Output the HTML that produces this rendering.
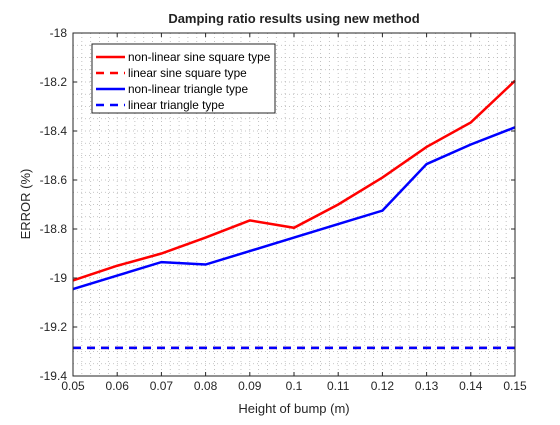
<!DOCTYPE html>
<html><head><meta charset="utf-8"><style>
body{margin:0;background:#fff;}
svg text{font-family:"Liberation Sans",sans-serif;}
</style></head><body>
<svg id="c" width="560" height="420" xmlns="http://www.w3.org/2000/svg">
<rect width="560" height="420" fill="#fff"/>
<g id="grid"></g>
<g id="series"></g>
<g id="axes"></g>
<text x="294" y="23" text-anchor="middle" font-size="13" font-weight="bold" fill="#222">Damping ratio results using new method</text>
<text x="294" y="413" text-anchor="middle" font-size="13" fill="#262626">Height of bump (m)</text>
<text transform="translate(30,204) rotate(-90)" text-anchor="middle" font-size="13" fill="#262626">ERROR (%)</text>
<g id="legend"></g>
</svg>
<script>
const xValues=[0.05,0.06,0.07,0.08,0.09,0.10,0.11,0.12,0.13,0.14,0.15];
const redNonlinear=[-19.01,-18.95,-18.90,-18.835,-18.765,-18.795,-18.70,-18.59,-18.465,-18.365,-18.195];
const blueNonlinear=[-19.045,-18.99,-18.935,-18.945,-18.89,-18.835,-18.78,-18.725,-18.535,-18.455,-18.385];
const redLinear=[-19.285,-19.285,-19.285,-19.285,-19.285,-19.285,-19.285,-19.285,-19.285,-19.285,-19.285];
const blueLinear=[-19.285,-19.285,-19.285,-19.285,-19.285,-19.285,-19.285,-19.285,-19.285,-19.285,-19.285];
const xTicks=[0.05,0.06,0.07,0.08,0.09,0.1,0.11,0.12,0.13,0.14,0.15];
const yTicks=[-18,-18.2,-18.4,-18.6,-18.8,-19,-19.2,-19.4];
const legendLabels=["non-linear sine square type","linear sine square type","non-linear triangle type","linear triangle type"];
const L=73,R=515,T=33,B=376,NS="http://www.w3.org/2000/svg";
const X=v=>L+(v-0.05)/0.1*(R-L);
const Y=v=>T+(-18-v)/1.4*(B-T);
function mk(t,a,p){const e=document.createElementNS(NS,t);for(const k in a)e.setAttribute(k,a[k]);p.appendChild(e);return e;}
const g=document.getElementById('grid'),ax=document.getElementById('axes'),s=document.getElementById('series'),lg=document.getElementById('legend');
for(let i=0;i<=50;i++){const x=L+i*(R-L)/50;const l=mk('line',{x1:x,x2:x,y1:T,y2:B,stroke:'#b4b4b4','stroke-width':0.8,'stroke-dasharray':'1,3'},g);}
for(let i=0;i<=28;i++){const y=T+i*(B-T)/28;const l=mk('line',{x1:L,x2:R,y1:y,y2:y,stroke:'#b4b4b4','stroke-width':0.8,'stroke-dasharray':'1,3'},g);}
const box=mk('rect',{x:L,y:T,width:R-L,height:B-T,fill:'none',stroke:'#262626','stroke-width':1},ax);

xTicks.forEach(v=>{const x=X(v);mk('line',{x1:x,x2:x,y1:B,y2:B-4,stroke:'#262626'},ax);mk('line',{x1:x,x2:x,y1:T,y2:T+4,stroke:'#262626'},ax);
const t=mk('text',{x:x,y:B+14,'text-anchor':'middle','font-size':12,fill:'#262626'},ax);t.textContent=String(v);});
yTicks.forEach(v=>{const y=Y(v);mk('line',{x1:L,x2:L+4,y1:y,y2:y,stroke:'#262626'},ax);mk('line',{x1:R,x2:R-4,y1:y,y2:y,stroke:'#262626'},ax);
const t=mk('text',{x:L-6,y:y+4,'text-anchor':'end','font-size':12,fill:'#262626'},ax);t.textContent=String(v);});
function line(d,c,dash,name){const p=mk('polyline',{points:d.map((v,i)=>X(xValues[i])+','+Y(v)).join(' '),fill:'none',stroke:c,'stroke-width':2.5,'stroke-dasharray':dash},s);}
line(redNonlinear,'#ff0000','none','series-nonlinear-sine-square');
line(redLinear,'#ff0000','8,6','series-linear-sine-square');
line(blueNonlinear,'#0000ff','none','series-nonlinear-triangle');
line(blueLinear,'#0000ff','8,6','series-linear-triangle');
const lb=mk('rect',{x:92,y:44,width:183,height:69,fill:'#fff',stroke:'#262626','stroke-width':1},lg);

const cols=['#ff0000','#ff0000','#0000ff','#0000ff'],dashes=['none','8,6','none','8,6'];
legendLabels.forEach((lab,i)=>{const y=57+i*16;const e=mk('g',{},lg);
mk('line',{x1:96,x2:125,y1:y,y2:y,stroke:cols[i],'stroke-width':2.5,'stroke-dasharray':dashes[i]},e);
const t=mk('text',{x:128,y:y+4,'font-size':11.8,fill:'#000'},e);t.textContent=lab;});
</script>
</body></html>
